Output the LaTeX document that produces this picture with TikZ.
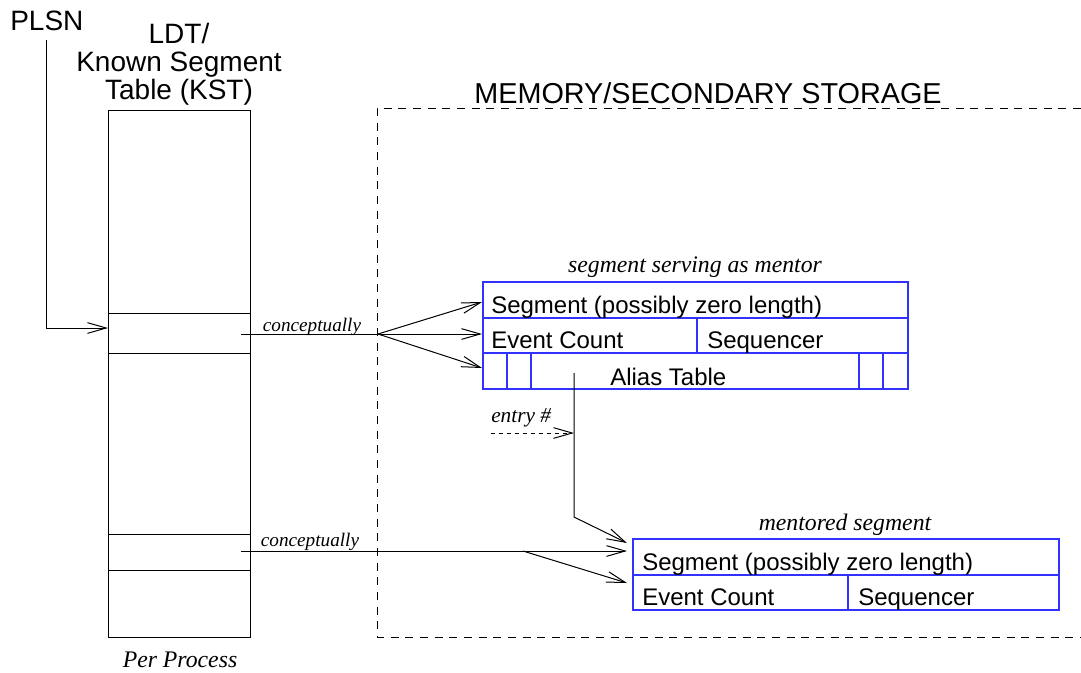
\documentclass[tikz,border=0pt]{standalone}
\usepackage{fontspec}
\setmainfont{Liberation Serif}
\setsansfont{Liberation Sans}
\usetikzlibrary{arrows.meta}
\definecolor{boxblue}{RGB}{50,50,255}
\tikzset{
  lbl/.style={inner sep=0pt, font=\sffamily\fontsize{21}{28}\selectfont},
  celltext/.style={inner sep=0pt, anchor=base west, font=\sffamily\fontsize{18}{21}\selectfont},
  title/.style={inner sep=0pt, anchor=base, font=\itshape\fontsize{17.8}{21}\selectfont},
  note/.style={inner sep=0pt, anchor=base, font=\itshape\fontsize{14.4}{17}\selectfont},
  wire/.style={line width=0.75pt, black},
  arr/.style={wire, -{Straight Barb[length=14pt, width=8pt, line width=0.75pt]}},
  bluebox/.style={line width=1.1pt, boxblue},
  frame/.style={line width=0.75pt, dash pattern=on 6pt off 5pt},
  entrydash/.style={dash pattern=on 3pt off 3pt}
}
\begin{document}
\begin{tikzpicture}[x=0.75pt, y=-0.75pt]
\useasboundingbox (0,0) rectangle (1081,672);

% storage region outline
\draw[frame] (1081,108) -- (377,108) -- (377,637) -- (1081,637);
\node[lbl, anchor=base, font=\sffamily\fontsize{21.6}{28}\selectfont] (storage) at (708,103) {MEMORY/SECONDARY STORAGE};

% per-process table
\node[lbl, anchor=base west] (plsn) at (10,30) {PLSN};
\node[lbl, anchor=base] (ldt1) at (179,43) {LDT/};
\node[lbl, anchor=base] (ldt2) at (179,71) {Known Segment};
\node[lbl, anchor=base] (ldt3) at (179,99) {Table (KST)};
\node[title] (perproc) at (180,667) {Per Process};

\draw[wire] (108,110) rectangle (250,637);
\draw[wire] (108,313) -- (250,313);
\draw[wire] (108,353) -- (250,353);
\draw[wire] (108,534) -- (250,534);
\draw[wire] (108,570) -- (250,570);
\coordinate (kstA) at (108,328);
\coordinate (kstAout) at (241,334);
\coordinate (kstBout) at (241,551);

% PLSN selects an entry
\coordinate (plsnfoot) at (46,40);
\draw[arr] (plsnfoot) |- (kstA);

% mentor segment
\node[title] (mentortitle) at (695,272) {segment serving as mentor};
\draw[bluebox] (483,282) rectangle (908,389);
\draw[bluebox] (483,318) -- (908,318);
\draw[bluebox] (483,353) -- (908,353);
\draw[bluebox] (697,318) -- (697,353);
\foreach \xx in {507,531,859,883} \draw[bluebox] (\xx,353) -- (\xx,389);
\node[celltext] (mseg) at (491,313) {Segment (possibly zero length)};
\node[celltext] (mec) at (491,348) {Event Count};
\node[celltext] (mseq) at (707,348) {Sequencer};
\node[celltext] (malias) at (610,385) {Alias Table};
\coordinate (mrow1) at (482,302);
\coordinate (mrow2) at (482,334);
\coordinate (mrow3) at (482,368);
\coordinate (aliasslot) at (574,373);

% mentored segment
\node[title] (menteetitle) at (845,530) {mentored segment};
\draw[bluebox] (633,539) rectangle (1059,610);
\draw[bluebox] (633,575) -- (1059,575);
\draw[bluebox] (848,575) -- (848,610);
\node[celltext] (sseg) at (642,570) {Segment (possibly zero length)};
\node[celltext] (sec) at (642,605) {Event Count};
\node[celltext] (sseq) at (858,605) {Sequencer};
\coordinate (srow1) at (627,551);
\coordinate (srow1b) at (627,543);
\coordinate (srow2) at (627,583);

% conceptual links from the table entries
\coordinate (fork1) at (378,334);
\draw[wire] (kstAout) -- (fork1);
\draw[arr] (fork1) -- (mrow1);
\draw[arr] (fork1) -- (mrow2);
\draw[arr] (fork1) -- (mrow3);
\node[note] (c1) at (312,331) {conceptually};

\coordinate (fork2) at (523,551);
\draw[arr] (kstBout) -- (srow1);
\draw[arr] (fork2) -- (srow2);
\node[note] (c2) at (310,546) {conceptually};

% alias table entry points to the mentored segment
\coordinate (bend) at (574,517);
\draw[arr] (aliasslot) -- (bend) -- (srow1b);
\coordinate (entryfrom) at (491,433);
\coordinate (entryto) at (574,433);
\draw[arr, entrydash] (entryfrom) -- (entryto);
\node[inner sep=0pt, anchor=base west, font=\itshape\fontsize{16}{19}\selectfont] (entry) at (491,422) {entry \#};
\end{tikzpicture}
\end{document}
